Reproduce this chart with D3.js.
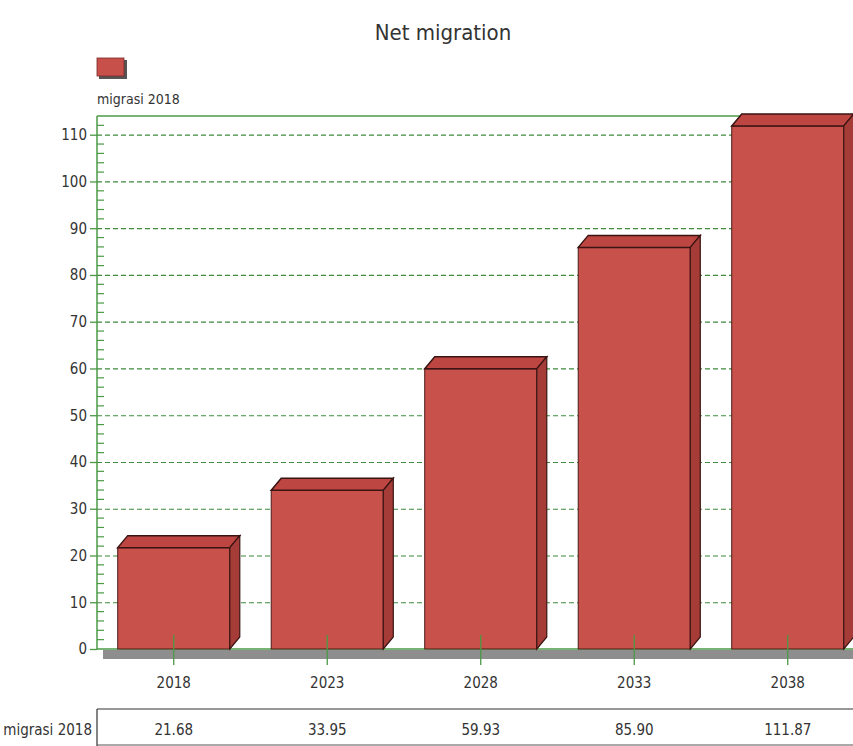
<!DOCTYPE html>
<html>
<head>
    <script src="https://cdnjs.cloudflare.com/ajax/libs/d3/7.8.5/d3.min.js"></script>
    <style>
        body { margin: 0; background: #fff; }
        text {
            font-family: "Liberation Sans Narrow", "DejaVu Sans Condensed", "Noto Sans", sans-serif;
            fill: #333;
        }
        .grid line {
            stroke: #3c8c3c;
            stroke-dasharray: 5,3;
            stroke-width: 1.2;
        }
        .grid path { display: none; }
    </style>
</head>
<body>
    <svg width="853" height="746"></svg>
    <script>
        // Data
        const years = ["2018", "2023", "2028", "2033", "2038"];
        const values = [21.68, 33.95, 59.93, 85.90, 111.87];
        const valueLabels = ["21.68", "33.95", "59.93", "85.90", "111.87"];
        const yTicks = [0, 10, 20, 30, 40, 50, 60, 70, 80, 90, 100, 110];
        const seriesName = "migrasi 2018";

        const svg = d3.select("svg");
        const green = "#4a9a44";
        const plotLeft = 97, plotTop = 116, plotBottom = 649;
        const depthX = 10, depthY = 12;
        const fontStack = "\"Liberation Sans Narrow\", \"DejaVu Sans Condensed\", sans-serif";

        const x = d3.scaleBand()
            .domain(years)
            .range([plotLeft, plotLeft + 5 * 153.5])
            .paddingInner(0.27)
            .paddingOuter(0.135);

        const y = d3.scaleLinear()
            .domain([0, 114])
            .range([plotBottom, plotTop]);

        // Title
        svg.append("text")
            .attr("x", 443).attr("y", 40)
            .attr("text-anchor", "middle")
            .style("font-size", "22px")
            .attr("fill", "#222")
            .text("Net migration");

        // Legend
        svg.append("rect")
            .attr("x", 99).attr("y", 60)
            .attr("width", 28).attr("height", 19)
            .attr("fill", "#555");
        svg.append("rect")
            .attr("x", 97).attr("y", 58)
            .attr("width", 27).attr("height", 18)
            .attr("fill", "#c8504b")
            .attr("stroke", "#7a2a27")
            .attr("stroke-width", 0.8);
        svg.append("text")
            .attr("x", 97).attr("y", 104)
            .style("font-size", "14px")
            .text(seriesName);

        // Grid lines
        svg.append("g")
            .attr("class", "grid")
            .attr("transform", `translate(${plotLeft},0)`)
            .call(d3.axisRight(y).tickValues(yTicks.slice(1)).tickSize(853 - plotLeft).tickFormat(""));

        // Frame top line
        svg.append("line")
            .attr("x1", plotLeft).attr("x2", 853)
            .attr("y1", plotTop).attr("y2", plotTop)
            .attr("stroke", green).attr("stroke-width", 1.5);

        // Floor
        svg.append("rect")
            .attr("x", 103).attr("y", plotBottom + 1)
            .attr("width", 853 - 103).attr("height", 9)
            .attr("fill", "#8e8e8e");
        svg.append("line")
            .attr("x1", plotLeft).attr("x2", 853)
            .attr("y1", plotBottom).attr("y2", plotBottom)
            .attr("stroke", green).attr("stroke-width", 1.5);

        // Bars (3D)
        const bars = svg.append("g").selectAll("g")
            .data(years.map((yr, i) => ({ yr, v: values[i] })))
            .join("g");

        bars.append("rect")
            .attr("x", d => x(d.yr))
            .attr("y", d => y(d.v))
            .attr("width", x.bandwidth())
            .attr("height", d => y(0) - y(d.v))
            .attr("fill", "#c9514c")
            .attr("stroke", "#4a1a18")
            .attr("stroke-width", 1);

        bars.append("polygon")
            .attr("points", d => {
                const x0 = x(d.yr), x1 = x0 + x.bandwidth(), yt = y(d.v);
                return [[x0, yt], [x0 + depthX, yt - depthY], [x1 + depthX, yt - depthY], [x1, yt]].join(" ");
            })
            .attr("fill", "#bd4642")
            .attr("stroke", "#3a1412")
            .attr("stroke-width", 1.5);

        bars.append("polygon")
            .attr("points", d => {
                const x1 = x(d.yr) + x.bandwidth(), yt = y(d.v), yb = y(0);
                return [[x1, yt], [x1 + depthX, yt - depthY], [x1 + depthX, yb - depthY], [x1, yb]].join(" ");
            })
            .attr("fill", "#a63c38")
            .attr("stroke", "#3a1412")
            .attr("stroke-width", 1.2);

        // Y axis
        const yAxis = svg.append("g")
            .attr("transform", `translate(${plotLeft},0)`)
            .call(d3.axisLeft(y).tickValues(yTicks).tickSize(7).tickPadding(3));
        yAxis.select(".domain").attr("stroke", green).attr("stroke-width", 1.5)
            .attr("d", `M0,${plotTop}V${plotBottom}`);
        yAxis.selectAll(".tick line").attr("stroke", green).attr("stroke-width", 1.3);
        yAxis.selectAll(".tick text")
            .style("font-size", "15px")
            .style("font-family", fontStack)
            .attr("fill", "#333");

        // Minor ticks every 2 units
        svg.append("g").selectAll("line")
            .data(d3.range(0, 114, 2).filter(v => v % 10 !== 0))
            .join("line")
            .attr("x1", plotLeft).attr("x2", plotLeft + 7)
            .attr("y1", d => y(d)).attr("y2", d => y(d))
            .attr("stroke", green).attr("stroke-width", 1.2);

        // X axis ticks and labels
        const xAxis = svg.append("g")
            .attr("transform", `translate(0,${plotBottom})`)
            .call(d3.axisBottom(x).tickSize(16).tickPadding(12));
        xAxis.select(".domain").remove();
        xAxis.selectAll(".tick line")
            .attr("y1", -14)
            .attr("stroke", green).attr("stroke-width", 1.3);
        xAxis.selectAll(".tick text")
            .style("font-size", "15px")
            .style("font-family", fontStack)
            .attr("fill", "#333");

        // Data table
        svg.append("line")
            .attr("x1", plotLeft).attr("x2", 853)
            .attr("y1", 709).attr("y2", 709)
            .attr("stroke", "#333").attr("stroke-width", 1.2);
        svg.append("line")
            .attr("x1", plotLeft).attr("x2", plotLeft)
            .attr("y1", 709).attr("y2", 746)
            .attr("stroke", "#333").attr("stroke-width", 1.2);
        svg.append("line")
            .attr("x1", plotLeft).attr("x2", 853)
            .attr("y1", 745).attr("y2", 745)
            .attr("stroke", "#555").attr("stroke-width", 1);
        svg.append("text")
            .attr("x", 92).attr("y", 735)
            .attr("text-anchor", "end")
            .style("font-size", "15px")
            .text(seriesName);
        svg.append("g").selectAll("text")
            .data(years.map((yr, i) => ({ yr, label: valueLabels[i] })))
            .join("text")
            .attr("x", d => x(d.yr) + x.bandwidth() / 2)
            .attr("y", 735)
            .attr("text-anchor", "middle")
            .style("font-size", "15px")
            .text(d => d.label);
    </script>
</body>
</html>
